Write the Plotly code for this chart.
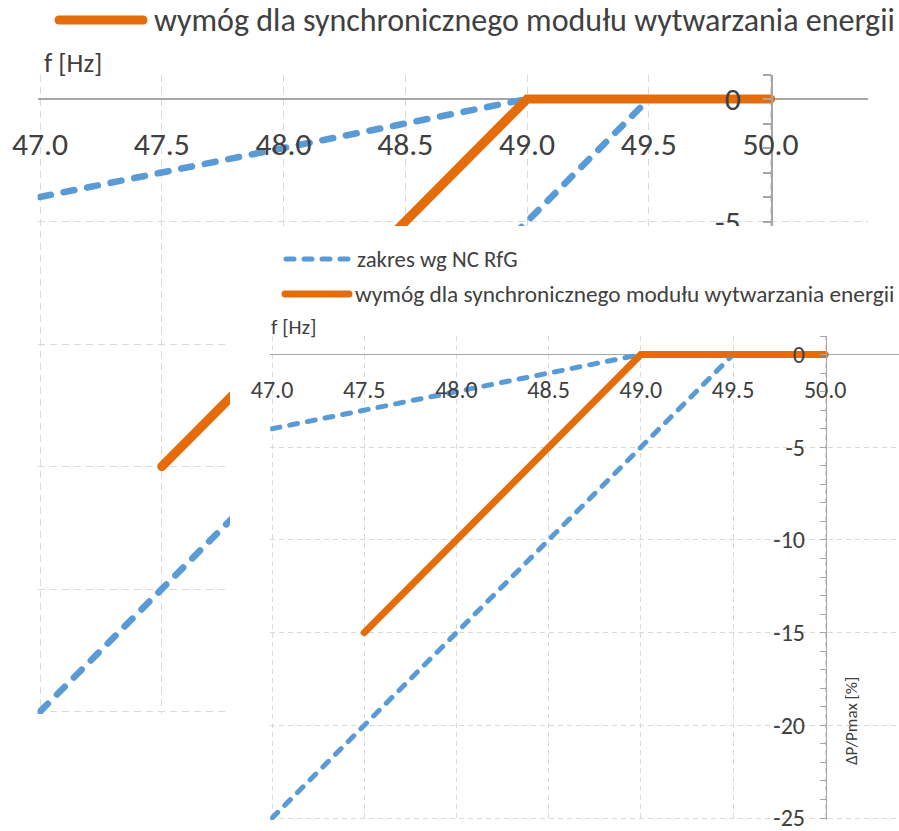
import plotly.graph_objects as go

# ---------------- data ----------------
freq_nc_low = [47.0, 49.0]          # NC RfG range, lower-slope boundary
dp_nc_low = [-4, 0]
freq_nc_high = [47.0, 49.5]         # NC RfG range, steep boundary
dp_nc_high = [-25, 0]
freq_req = [47.5, 49.0, 50.0]       # requirement for synchronous PGM
dp_req = [-15, 0, 0]

x_ticks = [47.0, 47.5, 48.0, 48.5, 49.0, 49.5, 50.0]
x_tick_labels = ["47.0", "47.5", "48.0", "48.5", "49.0", "49.5", "50.0"]
y_ticks = [0, -5, -10, -15, -20, -25]
y_tick_labels = ["0", "-5", "-10", "-15", "-20", "-25"]

legend_nc = "zakres wg NC RfG"
legend_req = "wymóg dla synchronicznego modułu wytwarzania energii"
x_title = "f [Hz]"
y_title = "ΔP/Pmax [%]"

# ---------------- styling ----------------
W, H = 899, 831
BLUE = "#5B9BD5"
ORANGE = "#E46C0A"
GRID = "#d9d9d9"
AXIS = "#a6a6a6"
TXT = "#404040"
FONT = "Carlito, Calibri, Lato, sans-serif"
X_RANGE = [46.99, 50.4]
Y_RANGE = [-25.1, 1]


def px(x):
    return x / W


def py(y):
    return 1 - y / H


fig = go.Figure()


def blue_dash(s):
    return f"{round(8 * s)}px,{round(10 * s)}px"


def add_series(xa, ya, s):
    for fx, fy in ((freq_nc_low, dp_nc_low), (freq_nc_high, dp_nc_high)):
        fig.add_trace(go.Scatter(
            x=fx, y=fy, xaxis=xa, yaxis=ya, mode="lines",
            line=dict(color=BLUE, width=5 * s, dash=blue_dash(s)),
            showlegend=False, hoverinfo="skip"))
    fig.add_trace(go.Scatter(
        x=freq_req, y=dp_req, xaxis=xa, yaxis=ya, mode="lines",
        line=dict(color=ORANGE, width=7 * s),
        showlegend=False, hoverinfo="skip"))


# background (magnified) chart
add_series("x", "y", 1.32)
# white cover panel
fig.add_trace(go.Scatter(x=[None], y=[None], xaxis="x2", yaxis="y2",
                         showlegend=False, hoverinfo="skip"))
# inset chart
add_series("x3", "y3", 1.0)


def xaxis_cfg(dom, pos, s, standoff):
    return dict(
        domain=dom, range=X_RANGE, anchor="free", position=pos,
        showline=False, automargin=False,
        showgrid=True, gridcolor=GRID, gridwidth=1.2,
        griddash=f"{round(5 * s)}px,{round(4 * s)}px",
        tickmode="array", tickvals=x_ticks, ticktext=x_tick_labels,
        ticks="", ticklabelstandoff=standoff, ticklabeloverflow="allow",
        tickfont=dict(size=24 * s, color=TXT, family=FONT),
        zeroline=False, fixedrange=True)


def yaxis_cfg(dom, pos, s, standoff):
    return dict(
        domain=dom, range=Y_RANGE, anchor="free", position=pos, side="left",
        showline=True, linecolor=AXIS, linewidth=1.4 * s, automargin=False,
        showgrid=True, gridcolor=GRID, gridwidth=1.2,
        griddash=f"{round(5 * s)}px,{round(4 * s)}px",
        zeroline=True, zerolinecolor=AXIS, zerolinewidth=1.4 * s,
        tickmode="array", tickvals=y_ticks, ticktext=y_tick_labels,
        ticks="outside", ticklen=round(6 * s), tickcolor=AXIS, tickwidth=1.4 * s,
        minor=dict(tickmode="linear", tick0=0, dtick=1, ticks="outside",
                   ticklen=round(6 * s), tickcolor=AXIS, tickwidth=1.4 * s,
                   showgrid=False),
        ticklabelstandoff=standoff, ticklabeloverflow="allow",
        tickfont=dict(size=24 * s, color=TXT, family=FONT),
        fixedrange=True)


layout = dict(
    width=W, height=H, autosize=False,
    margin=dict(l=0, r=0, t=0, b=0, pad=0),
    paper_bgcolor="white", plot_bgcolor="white",
    font=dict(family=FONT, color=TXT),
    showlegend=False,
    xaxis=xaxis_cfg([px(37.6), px(868)], py(99), 1.32, 23),
    yaxis=yaxis_cfg([py(714), py(74.5)], px(772), 1.32, 16),
    xaxis2=dict(domain=[px(230), 1.0], anchor="y2", visible=False,
                automargin=False, fixedrange=True),
    yaxis2=dict(domain=[0.0, py(226)], anchor="x2", visible=False,
                automargin=False, fixedrange=True),
    xaxis3=xaxis_cfg([px(270.2), 1.0], py(354.5), 1.0, 18),
    yaxis3=yaxis_cfg([py(819.9), py(336)], px(826), 1.0, 10),
)
fig.update_layout(**layout)

# legends (manual, Excel-like long samples)
shapes = [
    dict(type="line", xref="paper", yref="paper", x0=px(59), x1=px(143), y0=py(20), y1=py(20),
         line=dict(color=ORANGE, width=9)),
    dict(type="line", xref="paper", yref="paper", x0=px(286), x1=px(348), y0=py(259), y1=py(259),
         line=dict(color=BLUE, width=5, dash=blue_dash(1.0))),
    dict(type="line", xref="paper", yref="paper", x0=px(285), x1=px(349), y0=py(294), y1=py(294),
         line=dict(color=ORANGE, width=7)),
]
annotations = [
    dict(text=legend_req, x=px(152), y=py(20), font=dict(size=32)),
    dict(text=legend_nc, x=px(355), y=py(259), font=dict(size=22.8)),
    dict(text=legend_req, x=px(353), y=py(294), font=dict(size=23.3)),
    dict(text=x_title, x=px(42), y=py(63), font=dict(size=27)),
    dict(text=x_title, x=px(269), y=py(327), font=dict(size=21)),
]
for a in annotations:
    a.update(xref="paper", yref="paper", xanchor="left", yanchor="middle",
             showarrow=False)
annotations.append(dict(text=y_title, x=px(851), y=py(721), xref="paper", yref="paper",
                        textangle=-90, showarrow=False, font=dict(size=17),
                        xanchor="center", yanchor="middle"))
fig.update_layout(shapes=shapes, annotations=annotations)

css = ("var st=document.createElement('style');"
       "st.textContent='.scatterlayer path.js-line,.shapelayer path{stroke-linecap:round !important;}';"
       "document.head.appendChild(st);"
       "document.body.style.margin='0';document.body.style.overflow='hidden';")
fig.write_html("out.html", config={"displayModeBar": False}, post_script=css)
